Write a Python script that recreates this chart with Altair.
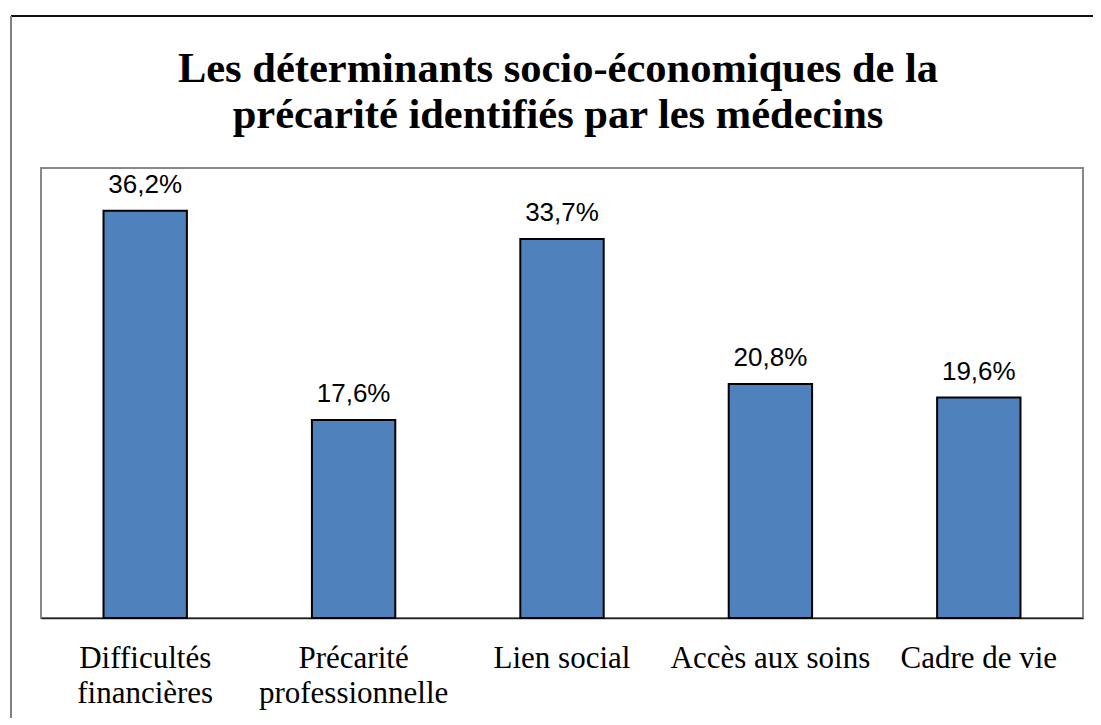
import altair as alt
import pandas as pd

categories = ["Difficultés\nfinancières", "Précarité\nprofessionnelle", "Lien social",
              "Accès aux soins", "Cadre de vie"]
values = [36.2, 17.6, 33.7, 20.8, 19.6]
labels = ["36,2%", "17,6%", "33,7%", "20,8%", "19,6%"]
title_lines = ["Les déterminants socio-économiques de la",
               "précarité identifiés par les médecins"]

df = pd.DataFrame({"cat": categories, "val": values, "lab": labels})
df_title = pd.DataFrame({"t": ["\n".join(title_lines)]})

W, H = 1042, 450

x = alt.X("cat:N", sort=None, title=None,
          scale=alt.Scale(paddingInner=0.6, paddingOuter=0.3),
          axis=alt.Axis(labelAngle=0, labelFont="Liberation Serif", labelFontSize=31,
                        labelColor="black", ticks=False, labelPadding=25,
                        labelBaseline="top", labelLineHeight=35, labelLimit=0,
                        domainColor="#222222", domainWidth=1.5,
                        labelExpr="split(datum.label, '\\n')"))
y = alt.Y("val:Q", scale=alt.Scale(domain=[0, 40], nice=False), axis=None)

base = alt.Chart(df)

bars = base.mark_bar(color="#4F81BD", stroke="black", strokeWidth=2).encode(x=x, y=y)
text = base.mark_text(font="Liberation Sans", fontSize=26, dy=-18,
                      baseline="alphabetic", color="black").encode(x=x, y=y, text="lab:N")

title = alt.Chart(df_title).mark_text(
    font="Liberation Serif", fontSize=42.5, fontWeight="bold", color="black",
    align="center", baseline="alphabetic", lineBreak="\n", lineHeight=46
).encode(x=alt.value(W / 2 - 4), y=alt.value(-86), text="t:N")

frame_top = base.mark_rule(color="#111111", strokeWidth=1.5).encode(
    x=alt.value(-30), x2=alt.value(W + 40), y=alt.value(-152))
frame_left = base.mark_rule(color="#808080", strokeWidth=2).encode(
    x=alt.value(-30), y=alt.value(-152), y2=alt.value(H + 120))

chart = alt.layer(frame_top, frame_left, bars, text, title).properties(
    width=W, height=H,
    autosize=alt.AutoSizeParams(type="none"),
    padding={"left": 33, "top": 160, "right": 10, "bottom": 100},
).configure_view(stroke="#888888", strokeWidth=2)

chart.save("out.html", embed_options={"renderer": "svg", "actions": False})
